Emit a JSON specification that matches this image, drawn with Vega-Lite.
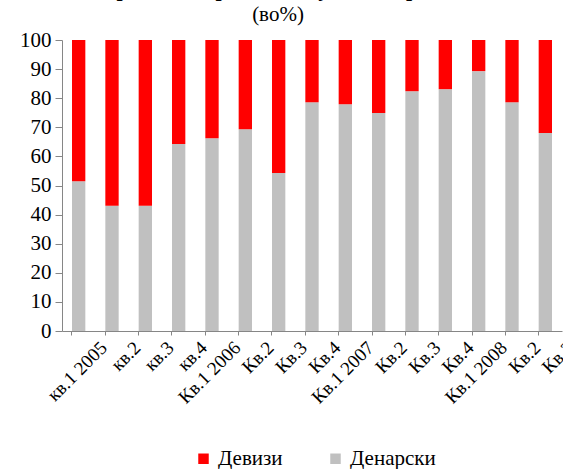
{
  "$schema": "https://vega.github.io/schema/vega-lite/v6.json",
  "width": 500,
  "height": 291,
  "autosize": {"type": "none"},
  "padding": {"left": 62, "top": 40, "right": 1, "bottom": 138},
  "background": "white",
  "config": {"view": {"stroke": null}},
  "title": {
    "text": "кварталниот раст на вкупните кредити",
    "subtitle": "(во%)",
    "fontSize": 22,
    "fontWeight": "bold",
    "font": "Liberation Serif",
    "color": "black",
    "subtitleFontSize": 21,
    "subtitleFont": "Liberation Serif",
    "subtitleColor": "black",
    "subtitlePadding": 3,
    "anchor": "middle",
    "dx": -34,
    "offset": 3
  },
  "data": {
    "values": [
      {"q": 1, "type": "Денарски", "value": 51.5}, {"q": 1, "type": "Девизи", "value": 48.5},
      {"q": 2, "type": "Денарски", "value": 43}, {"q": 2, "type": "Девизи", "value": 57},
      {"q": 3, "type": "Денарски", "value": 43}, {"q": 3, "type": "Девизи", "value": 57},
      {"q": 4, "type": "Денарски", "value": 64.3}, {"q": 4, "type": "Девизи", "value": 35.7},
      {"q": 5, "type": "Денарски", "value": 66.2}, {"q": 5, "type": "Девизи", "value": 33.8},
      {"q": 6, "type": "Денарски", "value": 69.3}, {"q": 6, "type": "Девизи", "value": 30.7},
      {"q": 7, "type": "Денарски", "value": 54.3}, {"q": 7, "type": "Девизи", "value": 45.7},
      {"q": 8, "type": "Денарски", "value": 78.6}, {"q": 8, "type": "Девизи", "value": 21.4},
      {"q": 9, "type": "Денарски", "value": 77.9}, {"q": 9, "type": "Девизи", "value": 22.1},
      {"q": 10, "type": "Денарски", "value": 74.9}, {"q": 10, "type": "Девизи", "value": 25.1},
      {"q": 11, "type": "Денарски", "value": 82.4}, {"q": 11, "type": "Девизи", "value": 17.6},
      {"q": 12, "type": "Денарски", "value": 83.1}, {"q": 12, "type": "Девизи", "value": 16.9},
      {"q": 13, "type": "Денарски", "value": 89.3}, {"q": 13, "type": "Девизи", "value": 10.7},
      {"q": 14, "type": "Денарски", "value": 78.6}, {"q": 14, "type": "Девизи", "value": 21.4},
      {"q": 15, "type": "Денарски", "value": 68}, {"q": 15, "type": "Девизи", "value": 32}
    ]
  },
  "mark": {"type": "bar"},
  "encoding": {
    "x": {
      "field": "q",
      "type": "ordinal",
      "scale": {"paddingInner": 0.6, "paddingOuter": 0.3},
      "axis": {
        "title": null,
        "labelExpr": "['кв.1 2005','кв.2','кв.3','кв.4','Кв.1 2006','Кв.2','Кв.3','Кв.4','Кв.1 2007','Кв.2','Кв.3','Кв.4','Кв.1 2008','Кв.2','Кв.3'][datum.value - 1]",
        "labelAngle": -45,
        "labelFontSize": 19,
        "labelColor": "black",
        "labelFont": "Liberation Serif",
        "labelPadding": 3,
        "labelOverlap": false,
        "labelBound": false,
        "bandPosition": 0,
        "labelOffset": 19,
        "domainColor": "#868686",
        "tickColor": "#868686",
        "tickSize": 4,
        "grid": false
      }
    },
    "y": {
      "field": "value",
      "type": "quantitative",
      "stack": "zero",
      "scale": {"domain": [0, 100], "nice": false},
      "axis": {
        "title": null,
        "values": [0, 10, 20, 30, 40, 50, 60, 70, 80, 90, 100],
        "labelFontSize": 21,
        "labelColor": "black",
        "labelFont": "Liberation Serif",
        "labelPadding": 4,
        "domainColor": "#868686",
        "tickColor": "#868686",
        "tickSize": 7,
        "grid": false
      }
    },
    "color": {
      "field": "type",
      "type": "nominal",
      "scale": {"domain": ["Девизи", "Денарски"], "range": ["#ff0000", "#c0c0c0"]},
      "legend": {
        "title": null,
        "orient": "none",
        "direction": "horizontal",
        "legendX": 131,
        "legendY": 408,
        "symbolType": "square",
        "symbolSize": 110,
        "symbolStrokeWidth": 0,
        "labelFontSize": 21,
        "labelFont": "Liberation Serif",
        "labelColor": "black",
        "columnPadding": 42,
        "labelOffset": 4
      }
    },
    "order": {"field": "type", "sort": "descending"}
  }
}
